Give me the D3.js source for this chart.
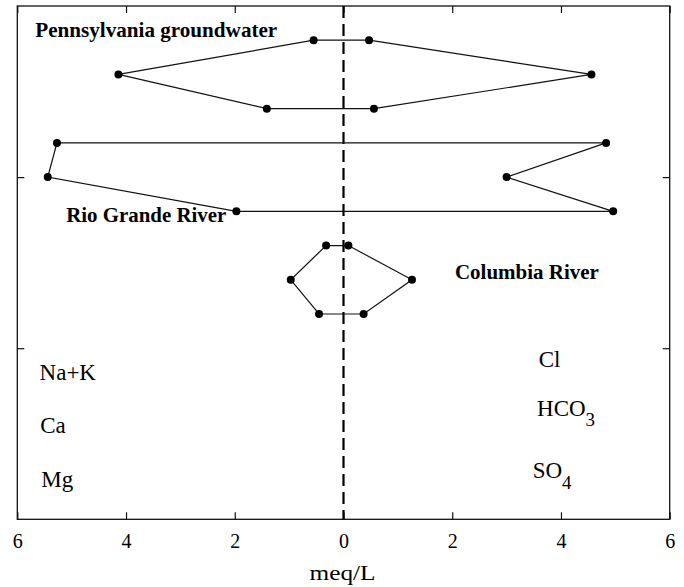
<!DOCTYPE html>
<html>
<head>
<meta charset="utf-8">
<script src="https://cdn.jsdelivr.net/npm/d3@7"></script>
<style>
  html, body { margin: 0; padding: 0; background: #fff; }
  svg { display: block; }
</style>
</head>
<body>
<svg id="chart" width="684" height="587"></svg>
<script>
// ---- data (meq/L) ----
const samples = ["Pennsylvania groundwater", "Rio Grande River", "Columbia River"];
const cationNames = ["Na+K", "Ca", "Mg"];
const anionNames = ["Cl", "HCO3", "SO4"];
const naK  = [0.55, 5.27, 0.32];
const ca   = [4.14, 5.44, 0.97];
const mg   = [1.41, 1.97, 0.45];
const cl   = [0.47, 4.83, 0.09];
const hco3 = [4.56, 3.00, 1.26];
const so4  = [0.56, 4.96, 0.37];
const xTicks = [-6, -4, -2, 0, 2, 4, 6];
const yTicks = [1, 2];

(function () {
const FONT = "'Liberation Serif', 'Times New Roman', Times, 'DejaVu Serif', serif";
const svg = d3.select("#chart");
const x = d3.scaleLinear().domain([-6, 6]).range([17.3, 669.7]);
const y = d3.scaleLinear().domain([0, 3]).range([519.3, 6]);
const rowY = (i, j) => 2.8 - i * 0.6 - j * 0.2;   // Stiff diagram rows

// frame
svg.append("rect")
  .attr("x", x(-6)).attr("y", y(3))
  .attr("width", x(6) - x(-6)).attr("height", y(0) - y(3))
  .attr("fill", "none").attr("stroke", "#111").attr("stroke-width", 1.3);

// axes (ticks inward)
const axB = svg.append("g").attr("transform", `translate(0,${y(0)})`)
  .call(d3.axisBottom(x).tickValues(xTicks).tickSizeInner(-7).tickSizeOuter(0)
        .tickFormat(d => Math.abs(d)));
axB.attr("font-family", null).attr("font-size", null);
axB.select(".domain").remove();
axB.selectAll("line").attr("stroke", "#111").attr("stroke-width", 1.2);
axB.selectAll("text").attr("y", 29).attr("dy", 0)
  .style("font-family", FONT).style("font-size", "20px").attr("fill", "#000");

const axT = svg.append("g").attr("transform", `translate(0,${y(3)})`)
  .call(d3.axisTop(x).tickValues(xTicks).tickSizeInner(-7).tickSizeOuter(0).tickFormat(""));
axT.select(".domain").remove();
axT.selectAll("line").attr("stroke", "#111").attr("stroke-width", 1.2);

const axL = svg.append("g").attr("transform", `translate(${x(-6)},0)`)
  .call(d3.axisLeft(y).tickValues(yTicks).tickSizeInner(-7).tickSizeOuter(0).tickFormat(""));
axL.select(".domain").remove();
axL.selectAll("line").attr("stroke", "#111").attr("stroke-width", 1.2);

const axR = svg.append("g").attr("transform", `translate(${x(6)},0)`)
  .call(d3.axisRight(y).tickValues(yTicks).tickSizeInner(-7).tickSizeOuter(0).tickFormat(""));
axR.select(".domain").remove();
axR.selectAll("line").attr("stroke", "#111").attr("stroke-width", 1.2);

// x label
svg.append("text").attr("x", x(0) - 1).attr("y", 580)
  .attr("text-anchor", "middle").style("font-family", FONT).style("font-size", "20px")
  .attr("textLength", 66).attr("lengthAdjust", "spacingAndGlyphs")
  .text("meq/L");

// center dashed line
svg.append("line")
  .attr("x1", x(0)).attr("x2", x(0)).attr("y1", y(3)).attr("y2", y(0))
  .attr("stroke", "#000").attr("stroke-width", 2.2).attr("stroke-dasharray", "12,6");

// polygons
samples.forEach((s, i) => {
  const pts = [
    [-naK[i], rowY(i, 0)],
    [cl[i], rowY(i, 0)],
    [hco3[i], rowY(i, 1)],
    [so4[i], rowY(i, 2)],
    [-mg[i], rowY(i, 2)],
    [-ca[i], rowY(i, 1)]
  ];
  const line = d3.line().x(d => x(d[0])).y(d => y(d[1])).curve(d3.curveLinearClosed);
  svg.append("path").attr("d", line(pts))
    .attr("fill", "none").attr("stroke", "#111").attr("stroke-width", 1.2);
  svg.selectAll(null).data(pts).enter().append("circle")
    .attr("cx", d => x(d[0])).attr("cy", d => y(d[1])).attr("r", 4)
    .attr("fill", "#000");
});

// sample labels (bold)
const sampleLabelPos = [[-5.67, 2.82, 242], [-5.10, 1.739, 160], [2.05, 1.403, 144]];
samples.forEach((s, i) => {
  const p = sampleLabelPos[i];
  svg.append("text").attr("x", x(p[0])).attr("y", y(p[1]))
    .style("font-family", FONT).style("font-size", "21px").style("font-weight", "bold")
    .attr("fill", "#000")
    .attr("textLength", p[2]).attr("lengthAdjust", "spacingAndGlyphs")
    .text(s);
});

// ion labels
const cationPos = [[-5.59, 0.812], [-5.58, 0.506], [-5.56, 0.187]];
cationNames.forEach((n, i) => {
  svg.append("text").attr("x", x(cationPos[i][0])).attr("y", y(cationPos[i][1]))
    .style("font-family", FONT).style("font-size", "23px").attr("fill", "#000").text(n);
});
const anionPos = [[3.59, 0.892], [3.56, 0.605], [3.48, 0.240]];
anionNames.forEach((n, i) => {
  const t = svg.append("text").attr("x", x(anionPos[i][0])).attr("y", y(anionPos[i][1]))
    .style("font-family", FONT).style("font-size", "23px").attr("fill", "#000");
  const m = n.match(/^([A-Za-z]+)(\d*)$/);
  t.append("tspan").text(m[1]);
  if (m[2]) {
    t.append("tspan").attr("dy", 10.5).style("font-size", "19px").text(m[2]);
  }
});
})();
</script>
</body>
</html>
